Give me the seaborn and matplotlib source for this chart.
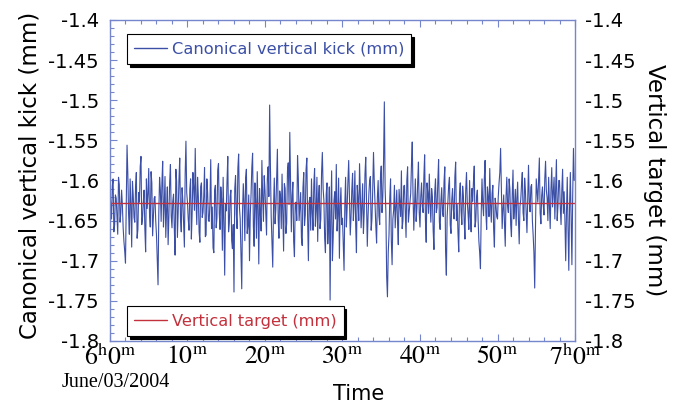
import numpy as np
import pandas as pd
import seaborn as sns
import matplotlib.pyplot as plt
from matplotlib.lines import Line2D

# kick readings (mm), 6 s apart; each 10 min block is split in two lists
# (a = even samples, b = odd samples)
seg1a = [-1.612, -1.648, -1.598, -1.655, -1.622, -1.667, -1.605, -1.640, -1.631, -1.676,
         -1.703, -1.556, -1.642, -1.598, -1.683, -1.619, -1.652, -1.590, -1.661, -1.627,
         -1.570, -1.646, -1.612, -1.689, -1.635, -1.585, -1.658, -1.603, -1.644, -1.620,
         -1.668, -1.730, -1.596, -1.651, -1.576, -1.632, -1.671, -1.608, -1.645, -1.580,
         -1.659, -1.617, -1.693, -1.601, -1.638, -1.572, -1.664, -1.625, -1.683, -1.551]
seg1b = [-1.631, -1.607, -1.664, -1.618, -1.645, -1.596, -1.652, -1.612, -1.659, -1.688,
         -1.624, -1.591, -1.667, -1.630, -1.601, -1.646, -1.608, -1.672, -1.615, -1.583,
         -1.655, -1.627, -1.660, -1.598, -1.617, -1.641, -1.589, -1.669, -1.622, -1.650,
         -1.700, -1.640, -1.612, -1.603, -1.658, -1.595, -1.637, -1.680, -1.602, -1.644,
         -1.626, -1.660, -1.586, -1.671, -1.599, -1.648, -1.609, -1.653, -1.592, -1.615]
seg2a = [-1.628, -1.662, -1.598, -1.641, -1.609, -1.560, -1.655, -1.620, -1.677, -1.603,
         -1.640, -1.584, -1.668, -1.615, -1.651, -1.574, -1.633, -1.690, -1.606, -1.647,
         -1.579, -1.661, -1.623, -1.596, -1.718, -1.638, -1.570, -1.652, -1.612, -1.685,
         -1.739, -1.594, -1.660, -1.567, -1.648, -1.735, -1.604, -1.675, -1.586, -1.657,
         -1.700, -1.618, -1.566, -1.682, -1.628, -1.589, -1.704, -1.640, -1.575, -1.651]
seg2b = [-1.649, -1.611, -1.673, -1.590, -1.637, -1.625, -1.596, -1.664, -1.608, -1.646,
         -1.619, -1.670, -1.598, -1.650, -1.626, -1.660, -1.684, -1.612, -1.659, -1.587,
         -1.641, -1.608, -1.687, -1.652, -1.630, -1.601, -1.664, -1.620, -1.675, -1.655,
         -1.610, -1.642, -1.585, -1.633, -1.690, -1.640, -1.628, -1.597, -1.666, -1.618,
         -1.643, -1.584, -1.657, -1.603, -1.672, -1.636, -1.610, -1.663, -1.621, -1.594]
seg3a = [-1.612, -1.668, -1.583, -1.506, -1.645, -1.708, -1.597, -1.636, -1.561, -1.672,
         -1.620, -1.592, -1.688, -1.610, -1.653, -1.578, -1.540, -1.664, -1.602, -1.695,
         -1.627, -1.569, -1.650, -1.615, -1.681, -1.590, -1.643, -1.572, -1.700, -1.621,
         -1.598, -1.662, -1.585, -1.637, -1.676, -1.606, -1.648, -1.565, -1.625, -1.690,
         -1.603, -1.655, -1.749, -1.588, -1.671, -1.614, -1.580, -1.642, -1.697, -1.609]
seg3b = [-1.641, -1.598, -1.620, -1.582, -1.676, -1.633, -1.654, -1.601, -1.647, -1.613,
         -1.660, -1.640, -1.604, -1.666, -1.588, -1.630, -1.601, -1.619, -1.676, -1.628,
         -1.650, -1.597, -1.633, -1.671, -1.609, -1.656, -1.586, -1.648, -1.626, -1.662,
         -1.640, -1.605, -1.657, -1.596, -1.622, -1.660, -1.590, -1.610, -1.672, -1.617,
         -1.679, -1.608, -1.640, -1.700, -1.625, -1.648, -1.663, -1.597, -1.632, -1.655]
seg4a = [-1.647, -1.712, -1.596, -1.634, -1.575, -1.668, -1.612, -1.650, -1.588, -1.690,
         -1.622, -1.579, -1.659, -1.604, -1.640, -1.571, -1.682, -1.617, -1.595, -1.648,
         -1.565, -1.630, -1.678, -1.600, -1.655, -1.582, -1.620, -1.502, -1.640, -1.745,
         -1.668, -1.598, -1.705, -1.637, -1.659, -1.612, -1.680, -1.627, -1.588, -1.650,
         -1.606, -1.671, -1.583, -1.640, -1.616, -1.552, -1.662, -1.598, -1.635, -1.577]
seg4b = [-1.680, -1.631, -1.658, -1.601, -1.622, -1.646, -1.591, -1.627, -1.655, -1.606,
         -1.650, -1.615, -1.632, -1.666, -1.592, -1.628, -1.644, -1.600, -1.662, -1.611,
         -1.602, -1.657, -1.621, -1.644, -1.596, -1.640, -1.575, -1.610, -1.720, -1.690,
         -1.622, -1.675, -1.648, -1.606, -1.633, -1.652, -1.611, -1.645, -1.660, -1.607,
         -1.638, -1.600, -1.652, -1.628, -1.580, -1.618, -1.630, -1.651, -1.602, -1.640]
seg5a = [-1.658, -1.603, -1.640, -1.568, -1.677, -1.615, -1.592, -1.652, -1.620, -1.686,
         -1.598, -1.634, -1.574, -1.661, -1.609, -1.645, -1.583, -1.718, -1.627, -1.596,
         -1.666, -1.610, -1.648, -1.577, -1.630, -1.689, -1.603, -1.655, -1.619, -1.673,
         -1.590, -1.641, -1.600, -1.664, -1.626, -1.582, -1.650, -1.612, -1.676, -1.710,
         -1.598, -1.644, -1.575, -1.661, -1.620, -1.585, -1.652, -1.606, -1.683, -1.631]
seg5b = [-1.620, -1.632, -1.595, -1.649, -1.603, -1.641, -1.628, -1.610, -1.662, -1.615,
         -1.640, -1.601, -1.652, -1.625, -1.640, -1.602, -1.688, -1.646, -1.606, -1.655,
         -1.624, -1.636, -1.595, -1.650, -1.665, -1.615, -1.638, -1.607, -1.650, -1.612,
         -1.627, -1.661, -1.645, -1.610, -1.601, -1.658, -1.620, -1.649, -1.690, -1.640,
         -1.630, -1.597, -1.640, -1.608, -1.645, -1.630, -1.616, -1.660, -1.622, -1.645]
seg6a = [-1.648, -1.603, -1.560, -1.660, -1.618, -1.682, -1.596, -1.640, -1.611, -1.670,
         -1.587, -1.632, -1.656, -1.602, -1.679, -1.624, -1.590, -1.650, -1.612, -1.665,
         -1.581, -1.639, -1.605, -1.668, -1.734, -1.598, -1.627, -1.572, -1.654, -1.608,
         -1.643, -1.576, -1.622, -1.596, -1.660, -1.584, -1.615, -1.648, -1.574, -1.632,
         -1.600, -1.655, -1.586, -1.614, -1.700, -1.596, -1.712, -1.590, -1.705, -1.560]
seg6b = [-1.620, -1.590, -1.612, -1.636, -1.654, -1.620, -1.631, -1.598, -1.655, -1.618,
         -1.648, -1.611, -1.622, -1.648, -1.632, -1.605, -1.640, -1.597, -1.641, -1.620,
         -1.626, -1.608, -1.650, -1.690, -1.660, -1.612, -1.601, -1.640, -1.619, -1.630,
         -1.598, -1.612, -1.650, -1.631, -1.610, -1.633, -1.596, -1.611, -1.650, -1.600,
         -1.633, -1.612, -1.641, -1.650, -1.640, -1.660, -1.630, -1.648, -1.620, -1.600]

target_value = -1.628
ytick_vals = [-1.8, -1.75, -1.7, -1.65, -1.6, -1.55, -1.5, -1.45, -1.4]
ytick_labels = ['-1.8', '-1.75', '-1.7', '-1.65', '-1.6', '-1.55', '-1.5', '-1.45', '-1.4']
tick_minutes = [0, 10, 20, 30, 40, 50, 60]
tick_labels = [r'$6^{\mathrm{h}}0^{\mathrm{m}}$', r'$10^{\mathrm{m}}$', r'$20^{\mathrm{m}}$',
               r'$30^{\mathrm{m}}$', r'$40^{\mathrm{m}}$', r'$50^{\mathrm{m}}$',
               r'$7^{\mathrm{h}}0^{\mathrm{m}}$']

pairs = [(seg1a, seg1b), (seg2a, seg2b), (seg3a, seg3b),
         (seg4a, seg4b), (seg5a, seg5b), (seg6a, seg6b)]
kick = []
for a, b in pairs:
    for va, vb in zip(a, b):
        kick += [va, vb]
minutes = np.arange(len(kick)) * 0.1
df = pd.DataFrame({'minute': minutes, 'kick': kick})
target_df = pd.DataFrame({'minute': [0, 60], 'target': [target_value, target_value]})

sns.set_style("ticks")
plt.rcParams['font.family'] = ['DejaVu Sans']
plt.rcParams['mathtext.fontset'] = 'stix'
plt.rcParams['text.color'] = 'black'
plt.rcParams['axes.labelcolor'] = 'black'

blue = '#3b4fa6'
red = '#c2313c'
frame = '#7586cc'

fig = plt.figure(figsize=(6.76, 4.04), dpi=100)
ax = fig.add_axes([0.1627, 0.156, 0.6879, 0.7945])
sns.lineplot(data=df, x='minute', y='kick', ax=ax, color=blue, lw=0.8)
sns.lineplot(data=target_df, x='minute', y='target', ax=ax, color=red, lw=1.0)

ax.set_xlim(0, 60)
ax.set_ylim(-1.8, -1.4)
ax.set_yticks(ytick_vals)
ax.set_yticklabels(ytick_labels)
ax.set_yticks(np.arange(-1.8, -1.399, 0.01), minor=True)
ax.set_xticks(tick_minutes)
ax.set_xticklabels(tick_labels, fontsize=18.5)
ax.set_xticks(np.arange(0, 61, 2), minor=True)
ax.tick_params(axis='y', labelsize=14, pad=8)
ax.tick_params(axis='x', pad=2)
ax.tick_params(which='both', direction='in', color=frame, labelcolor='black',
               top=True, right=True, width=0.8)
ax.tick_params(which='major', length=5)
ax.tick_params(which='minor', length=3)
for s in ax.spines.values():
    s.set_color(frame)
    s.set_linewidth(1.0)

ax.set_xlabel('Time', fontsize=15, va='top')
ax.xaxis.set_label_coords(0.535, -0.135)
ax.set_ylabel('Canonical vertical kick (mm)', fontsize=16.5, va='center')
ax.yaxis.set_label_coords(-0.172, 0.515)
ax.text(0.013, -0.128, 'June/03/2004', transform=ax.transAxes, ha='center', va='center',
        fontsize=14.5, family='Liberation Serif')

ax2 = ax.twinx()
ax2.set_ylim(-1.8, -1.4)
ax2.set_yticks(ytick_vals)
ax2.set_yticklabels(ytick_labels)
ax2.tick_params(axis='y', labelsize=14, length=0, pad=7, labelcolor='black')
ax2.set_ylabel('Vertical target (mm)', fontsize=16.5, rotation=270, va='center')
ax2.yaxis.set_label_coords(1.172, 0.5)
for s in ax2.spines.values():
    s.set_visible(False)

shadow = {'color': 'black', 'alpha': 1.0}
h1 = [Line2D([], [], color=blue, lw=1)]
leg1 = ax2.legend(h1, ['Canonical vertical kick (mm)'], loc='upper left',
                  bbox_to_anchor=(0.0366, 0.956), borderaxespad=0, fontsize=11.7,
                  labelcolor=blue, frameon=True, fancybox=False, edgecolor='black',
                  shadow=shadow, handlelength=2.0, handletextpad=0.3, borderpad=0.45)
leg1.get_frame().set_linewidth(0.8)
ax2.add_artist(leg1)
h2 = [Line2D([], [], color=red, lw=1)]
leg2 = ax2.legend(h2, ['Vertical target (mm)'], loc='lower left',
                  bbox_to_anchor=(0.0366, 0.0156), borderaxespad=0, fontsize=11.7,
                  labelcolor=red, frameon=True, fancybox=False, edgecolor='black',
                  shadow=shadow, handlelength=2.0, handletextpad=0.3, borderpad=0.45)
leg2.get_frame().set_linewidth(0.8)

fig.savefig('out.png', dpi=100)
